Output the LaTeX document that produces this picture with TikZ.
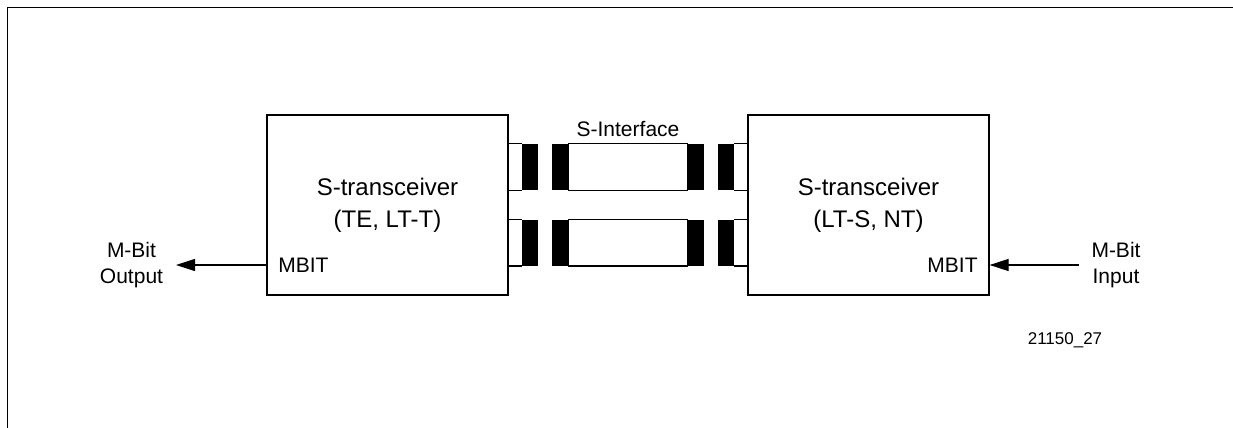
\documentclass[tikz,border=0pt]{standalone}
\usepackage{fontspec}
\setmainfont{Liberation Sans}
\usetikzlibrary{positioning,arrows.meta}

\begin{document}
\begin{tikzpicture}[x = 0.5pt, y = -0.5pt,
	box/.style = {shape=rectangle, draw, line width = 0.6pt, minimum width = 120.5pt, minimum height = 90pt, inner sep = 0pt, align = center, font = \fontsize{12pt}{16pt}\selectfont},
	plug/.style = {shape=rectangle, fill=black, minimum width = 8pt, minimum height = 23pt, inner sep = 0pt},
	lbl/.style = {inner sep = 0pt, font = \fontsize{10.5pt}{13pt}\selectfont},
	iolbl/.style = {lbl, align = center, outer sep = 6.5pt},
	tip/.style = {-{Triangle[length = 9.5pt, width = 6pt]}}]
	\useasboundingbox (0,0) rectangle (1233,428);
	\draw [line width = 0.5pt] (7,428) -- (7,7) -- (1233,7);
	
	\node(te) [box] at (387.5,205) {S-transceiver\\(TE, LT-T)};
	\node(nt) [box] at (868.5,205) {S-transceiver\\(LT-S, NT)};
	
	% upper plug and cable
	\node(pl1) [plug] at (530,167) {};
	\node(cl1) [plug] at (560,167) {};
	\node(cr1) [plug] at (695.5,167) {};
	\node(pr1) [plug] at (725.5,167) {};
	% lower plug and cable
	\node(pl2) [plug] at (530,242.5) {};
	\node(cl2) [plug] at (560,242.5) {};
	\node(cr2) [plug] at (695.5,242.5) {};
	\node(pr2) [plug] at (725.5,242.5) {};
	
	\draw [line width = 0.6pt]
	(te.east |- pl1.north) -- (pl1.north west)
	(te.east |- pl1.south) -- (pl1.south west)
	(te.east |- pl2.north) -- (pl2.north west)
	(te.east |- pl2.south) -- (pl2.south west)
	(pr1.north east) -- (nt.west |- pr1.north)
	(pr1.south east) -- (nt.west |- pr1.south)
	(pr2.north east) -- (nt.west |- pr2.north)
	(pr2.south east) -- (nt.west |- pr2.south)
	(cl1.north east) rectangle (cr1.south west)
	(cl2.north east) rectangle (cr2.south west);
	
	\node(sif) [lbl] at (628,129) {S-Interface};
	
	\node(mbo) [lbl, anchor = west] at (278,265) {MBIT};
	\node(mbi) [lbl, anchor = east] at (978,265) {MBIT};
	\node(mout) [iolbl] at (131.5,265) {M-Bit\\Output};
	\node(min) [iolbl] at (1116,265) {M-Bit\\Input};
	
	\path [tip] [line width = 0.6pt]
	(te.west |- mbo) edge (mout)
	(min) edge (nt.east |- mbi);
	
	\node(fig) [inner sep = 0pt, font = \fontsize{8.5pt}{10pt}\selectfont] at (1065,340) {21150\_27};
\end{tikzpicture}
\end{document}
